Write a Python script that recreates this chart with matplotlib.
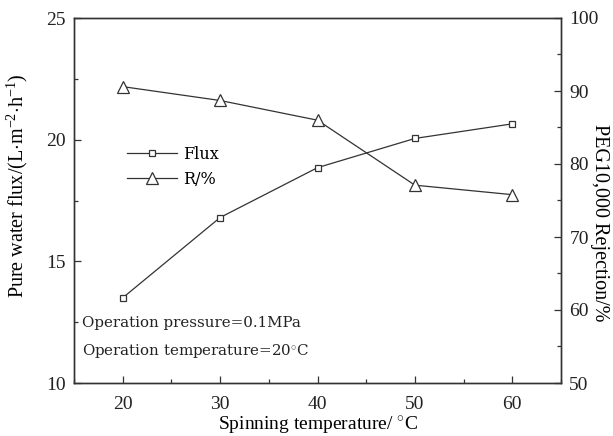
import matplotlib
matplotlib.use("Agg")
import matplotlib.pyplot as plt
from matplotlib.ticker import MultipleLocator

plt.rcParams["font.family"] = ["Liberation Serif", "DejaVu Serif"]
plt.rcParams["mathtext.fontset"] = "custom"
plt.rcParams["mathtext.rm"] = "Liberation Serif"
plt.rcParams["mathtext.it"] = "Liberation Serif:italic"

# spinning temperature (°C)
temps = [20, 30, 40, 50, 60]
flux = [13.5, 16.8, 18.85, 20.05, 20.65]
rejection = [90.6, 88.7, 86.0, 77.1, 75.8]

fig = plt.figure(figsize=(6.13, 4.36), dpi=100)
ax = fig.add_axes([74 / 613, 1 - 383 / 436, 487 / 613, 365 / 436])
ax2 = ax.twinx()

c = "#333333"
l1, = ax.plot(temps, flux, color=c, lw=0.9, marker="s", ms=4.5,
              mfc="white", mec=c, mew=0.9, label="Flux")
l2, = ax2.plot(temps, rejection, color=c, lw=0.9, marker="^", ms=8,
               mfc="white", mec=c, mew=0.9, label="R/%")

ax.set_xlim(15, 65)
ax.set_ylim(10, 25)
ax2.set_ylim(50, 100)
ax.set_xticks(temps)
ax.xaxis.set_minor_locator(MultipleLocator(5))
ax.yaxis.set_major_locator(MultipleLocator(5))
ax.yaxis.set_minor_locator(MultipleLocator(2.5))
ax2.yaxis.set_major_locator(MultipleLocator(10))
ax2.yaxis.set_minor_locator(MultipleLocator(5))

for a in (ax, ax2):
    a.tick_params(which="both", direction="in", colors=c, labelcolor="#222222",
                  labelsize=14, width=0.9)
    a.tick_params(which="major", length=5)
    a.tick_params(which="minor", length=3)
    for s in a.spines.values():
        s.set_color(c)
        s.set_linewidth(1.0)
ax.tick_params(top=False, which="both")
ax.tick_params(axis="x", pad=9)
ax.tick_params(axis="y", pad=6)
ax2.tick_params(axis="y", pad=6)

ax.set_xlabel("Spinning temperature/ $^{\\circ}$C", fontsize=14, va="center")
ax.xaxis.set_label_coords(0.5, -0.115)
ax.set_ylabel("Pure water flux/(L$\\cdot$m$^{-2}$$\\cdot$h$^{-1}$)", fontsize=14.5)
ax.yaxis.set_label_coords(-0.09, 0.54)
ax2.set_ylabel("PEG10,000 Rejection/%", fontsize=14.5, rotation=270, va="center")
ax2.yaxis.set_label_coords(1.08, 0.44)

txt_font = ["DejaVu Serif"]
leg = ax.legend(handles=[l1, l2], loc="upper left", bbox_to_anchor=(0.08, 0.69),
                frameon=False, handlelength=3.1, handletextpad=0.4,
                labelspacing=0.5, prop={"family": txt_font, "size": 11.5})

ax.text(15.8, 12.45, "Operation pressure=0.1MPa", fontsize=10.8, va="center",
        color="#222222", family=txt_font)
ax.text(15.8, 11.3, "Operation temperature=20$^{\\circ}$C", fontsize=10.8, va="center",
        color="#222222", family=txt_font)

fig.savefig("out.png", dpi=100)
